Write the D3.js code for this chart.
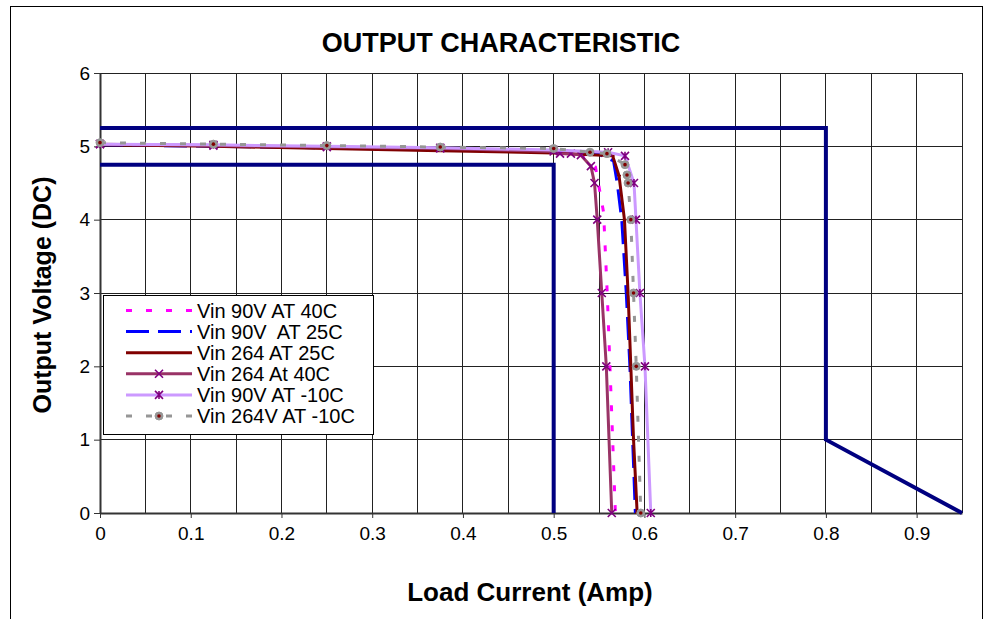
<!DOCTYPE html>
<html><head><meta charset="utf-8">
<script src="https://cdn.jsdelivr.net/npm/d3@7"></script>
<style>body{margin:0;background:#fff}svg{display:block}text{font-family:"Liberation Sans",Arial,sans-serif}</style>
</head><body><svg id="c" width="984" height="619"></svg>
<script>
// ---- data ----
const xTickValues = [0,0.1,0.2,0.3,0.4,0.5,0.6,0.7,0.8,0.9];
const xTickLabels = ["0","0.1","0.2","0.3","0.4","0.5","0.6","0.7","0.8","0.9"];
const yTickValues = [0,1,2,3,4,5,6];
const yTickLabels = ["0","1","2","3","4","5","6"];
const seriesNames = ["Vin 90V AT 40C","Vin 90V  AT 25C","Vin 264 AT 25C","Vin 264 At 40C","Vin 90V AT -10C","Vin 264V AT -10C"];
const s1x = [0,0.125,0.25,0.375,0.5,0.53,0.546,0.555,0.559,0.562,0.568];
const s1y = [5.03,5.01,4.99,4.97,4.94,4.9,4.72,4.1,3.0,2.0,0];
const s2x = [0,0.125,0.25,0.375,0.5,0.548,0.566,0.57,0.575,0.58,0.584,0.59];
const s2y = [5.02,5.0,4.98,4.95,4.93,4.9,4.8,4.5,4.0,3.0,2.0,0];
const s3x = [0,0.125,0.25,0.375,0.5,0.565,0.572,0.578,0.582,0.585,0.588,0.592];
const s3y = [5.02,5.0,4.97,4.94,4.91,4.87,4.6,4.0,3.0,2.0,1.0,0];
const s4x = [0,0.125,0.25,0.375,0.5,0.507,0.519,0.530,0.541,0.545,0.548,0.553,0.558,0.564];
const s4y = [5.03,5.01,4.99,4.97,4.93,4.9,4.9,4.88,4.73,4.5,4.0,3.0,2.0,0];
const s5x = [0,0.125,0.25,0.375,0.5,0.56,0.5786,0.5885,0.5907,0.595,0.6006,0.607];
const s5y = [5.03,5.02,5.0,4.98,4.95,4.92,4.87,4.5,4.0,3.0,2.0,0];
const s6x = [0,0.125,0.25,0.375,0.5,0.540,0.5587,0.5786,0.5808,0.582,0.585,0.588,0.591,0.596];
const s6y = [5.05,5.03,5.01,4.99,4.97,4.92,4.9,4.75,4.61,4.5,4.0,3.0,2.0,0];
const limUpperX = [0,0.8,0.8,0.95];
const limUpperY = [5.25,5.25,1,0];
const limLowerX = [0,0.5,0.5];
const limLowerY = [4.75,4.75,0];

// ---- styles ----
const styles = [
  {color:"#FF00FF", width:3, dash:"6,14", marker:null},
  {color:"#0000FF", width:3, dash:"23,9", marker:null},
  {color:"#800000", width:3, dash:null, marker:"dash"},
  {color:"#993366", width:3, dash:null, marker:"x"},
  {color:"#CC99FF", width:3, dash:null, marker:"star"},
  {color:"#969696", width:3, dash:"6,14", marker:"circle"}
];
const seriesData = [[s1x,s1y],[s2x,s2y],[s3x,s3y],[s4x,s4y],[s5x,s5y],[s6x,s6y]];

const svg = d3.select("#c");
const L=100, R=962, T=73, B=513;
const x = d3.scaleLinear().domain([0,0.95]).range([L,R]);
const y = d3.scaleLinear().domain([0,6]).range([B,T]);

// outer border
svg.append("rect").attr("x",10.5).attr("y",6.5).attr("width",972).attr("height",640)
  .attr("fill","#fff").attr("stroke","#000").attr("stroke-width",1);

// gridlines
const g = svg.append("g").attr("shape-rendering","crispEdges");
d3.range(1,20).forEach(i=>{
  const v = i*0.05;
  g.append("line").attr("x1",x(v)).attr("x2",x(v)).attr("y1",T).attr("y2",B).attr("stroke","#222");
});
yTickValues.slice(1).forEach(v=>{
  g.append("line").attr("x1",L).attr("x2",R).attr("y1",y(v)).attr("y2",y(v)).attr("stroke","#222");
});

// axes
const xAxis = d3.axisBottom(x).tickValues(xTickValues).tickFormat((d,i)=>xTickLabels[i]).tickSize(5).tickSizeOuter(0);
const gx = svg.append("g").attr("transform",`translate(0,${B})`).call(xAxis);
gx.select(".domain").attr("stroke","#333").attr("stroke-width",2);
gx.selectAll(".tick line").attr("stroke","#333");
gx.selectAll("text").attr("font-size",19).attr("fill","#000").attr("dy","1.0em");
const yAxis = d3.axisLeft(y).tickValues(yTickValues).tickFormat((d,i)=>yTickLabels[i]).tickSize(6).tickSizeOuter(0);
const gy = svg.append("g").attr("transform",`translate(${L},0)`).call(yAxis);
gy.select(".domain").attr("stroke","#333").attr("stroke-width",2);
gy.selectAll(".tick line").attr("stroke","#333");
gy.selectAll("text").attr("font-size",19).attr("fill","#000").attr("x",-10);

// limit lines
const line = d3.line().x(d=>x(d[0])).y(d=>y(d[1]));
[[limUpperX,limUpperY],[limLowerX,limLowerY]].forEach(([xs,ys])=>{
  svg.append("path").attr("d",line(xs.map((v,i)=>[v,ys[i]])))
    .attr("fill","none").attr("stroke","#000080").attr("stroke-width",4);
});

function drawMarker(sel, type, cx, cy){
  if(type==="x"){
    sel.append("path").attr("d",`M${cx-4},${cy-4}L${cx+4},${cy+4}M${cx-4},${cy+4}L${cx+4},${cy-4}`)
      .attr("stroke","#800080").attr("stroke-width",1.6).attr("fill","none");
  } else if(type==="star"){
    sel.append("path").attr("d",`M${cx-4},${cy-4}L${cx+4},${cy+4}M${cx-4},${cy+4}L${cx+4},${cy-4}M${cx},${cy-4}L${cx},${cy+4}`)
      .attr("stroke","#800080").attr("stroke-width",1.6).attr("fill","none");
  } else if(type==="circle"){
    sel.append("circle").attr("cx",cx).attr("cy",cy).attr("r",4).attr("fill","#969696").attr("stroke","#969696");
    sel.append("circle").attr("cx",cx).attr("cy",cy).attr("r",1.8).attr("fill","#800000");
  } else if(type==="dash"){
    sel.append("line").attr("x1",cx-2).attr("x2",cx+2).attr("y1",cy).attr("y2",cy).attr("stroke","#800000").attr("stroke-width",1.5);
  }
}

// series
seriesData.forEach(([xs,ys],k)=>{
  const st = styles[k];
  const pts = xs.map((v,i)=>[v,ys[i]]);
  const p = svg.append("path").attr("d",line(pts)).attr("fill","none")
    .attr("stroke",st.color).attr("stroke-width",st.width).attr("stroke-linejoin","round");
  if(st.dash) p.attr("stroke-dasharray",st.dash);
  if(st.marker){
    const mg = svg.append("g");
    pts.forEach(d=>drawMarker(mg, st.marker, x(d[0]), y(d[1])));
  }
});

// legend
const lg = svg.append("g");
lg.append("rect").attr("x",103.5).attr("y",295.5).attr("width",270).attr("height",139)
  .attr("fill","#fff").attr("stroke","#000");
seriesNames.forEach((name,k)=>{
  const st = styles[k];
  const cy = 310.5 + k*21.1;
  const l = lg.append("line").attr("x1",126).attr("x2",192).attr("y1",cy).attr("y2",cy)
    .attr("stroke",st.color).attr("stroke-width",st.width);
  if(st.dash) l.attr("stroke-dasharray",st.dash);
  if(st.marker) drawMarker(lg, st.marker, 159, cy);
  lg.append("text").attr("x",197).attr("y",cy+7).attr("font-size",20).attr("xml:space","preserve")
    .style("white-space","pre").text(name);
});

// titles
svg.append("text").attr("x",501).attr("y",52).attr("text-anchor","middle").attr("font-size",27)
  .attr("font-weight","bold").text("OUTPUT CHARACTERISTIC");
svg.append("text").attr("x",530).attr("y",601).attr("text-anchor","middle").attr("font-size",26)
  .attr("font-weight","bold").text("Load Current (Amp)");
svg.append("text").attr("transform","translate(51,295) rotate(-90)").attr("text-anchor","middle")
  .attr("font-size",25).attr("font-weight","bold").text("Output Voltage (DC)");
</script></body></html>
